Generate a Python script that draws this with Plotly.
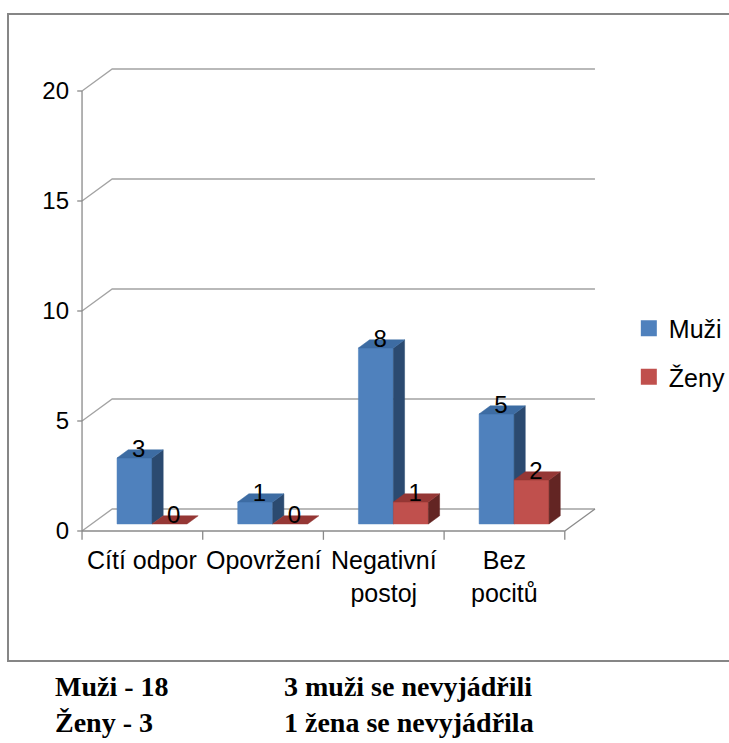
import plotly.graph_objects as go

# data
categories = ["Cítí odpor", "Opovržení", "Negativní<br>postoj", "Bez<br>pocitů"]
muzi = [3, 1, 8, 5]
zeny = [0, 0, 1, 2]
y_ticks = [0, 5, 10, 15, 20]

notes_left = ["Muži - 18", "Ženy - 3"]
notes_right = ["3 muži se nevyjádřili", "1 žena se nevyjádřila"]

# Excel-style fake 3D: the depth axis is a fixed shift in (category, value) units
DX, DY = 0.25, 1.0      # full floor depth
F0, F1 = 0.32, 0.69     # bar front / back, as fraction of the depth
BAR_W = 0.29            # bar width in category units

GRID = "#a3a3a3"
AXIS = "#8a8a8a"
FONT = "Liberation Sans"

series = [
    # name, values, front, side, top, slot
    ("Muži", muzi, "#4F81BD", "#2B4A70", "#3D6CA3", 0),
    ("Ženy", zeny, "#C0504D", "#632523", "#953735", 1),
]

n_cat = len(categories)
fig = go.Figure()


def add_lines(xs, ys, color, width=1.3):
    fig.add_trace(go.Scatter(x=xs, y=ys, mode="lines", line=dict(color=color, width=width),
                             hoverinfo="skip", showlegend=False))


# walls: slanted gridlines on the side wall, flat ones on the back wall
gx, gy = [], []
for v in y_ticks:
    gx += [0, DX, n_cat + DX, None]
    gy += [v, v + DY, v + DY, None]
add_lines(gx, gy, GRID)

# floor front edge, right edge, value axis, tick marks
ax_x = [0, n_cat, None, n_cat, n_cat + DX, None, 0, 0, None]
ax_y = [0, 0, None, 0, DY, None, 0, y_ticks[-1], None]
for i in range(n_cat + 1):
    ax_x += [i, i, None]
    ax_y += [0, -0.4, None]
for v in y_ticks:
    ax_x += [-0.04, 0, None]
    ax_y += [v, v, None]
add_lines(ax_x, ax_y, AXIS)


def polys(values, slot):
    front_x, front_y, side_x, side_y, top_x, top_y = [], [], [], [], [], []
    for i, v in enumerate(values):
        xl = i + 0.5 - BAR_W + slot * BAR_W
        xr = xl + BAR_W
        a, b = F0 * DX, F1 * DX
        if v > 0:
            front_x += [xl + a, xr + a, xr + a, xl + a, xl + a, None]
            front_y += [F0, F0, v + F0, v + F0, F0, None]
            side_x += [xr + a, xr + b, xr + b, xr + a, xr + a, None]
            side_y += [F0, F1, v + F1, v + F0, F0, None]
        top_x += [xl + a, xr + a, xr + b, xl + b, xl + a, None]
        top_y += [v + F0, v + F0, v + F1, v + F1, v + F0, None]
    return (front_x, front_y), (side_x, side_y), (top_x, top_y)


for name, vals, c_front, c_side, c_top, slot in series:
    faces = polys(vals, slot)
    for (xs, ys), col in zip(faces, (c_front, c_side, c_top)):
        fig.add_trace(go.Scatter(x=xs, y=ys, mode="lines", fill="toself", fillcolor=col,
                                 line=dict(color=col, width=0.5), hoverinfo="skip",
                                 showlegend=False))

# data labels sitting on the bar tops
for name, vals, c_front, c_side, c_top, slot in series:
    lx = [i + 0.5 - BAR_W / 2 + slot * BAR_W + F0 * DX + 0.035 for i in range(n_cat)]
    ly = [v + F0 + 0.32 for v in vals]
    fig.add_trace(go.Scatter(x=lx, y=ly, mode="text", text=[str(v) for v in vals],
                             textposition="middle center", cliponaxis=False,
                             textfont=dict(family=FONT, size=24, color="black"),
                             hoverinfo="skip", showlegend=False))

# legend entries
for name, vals, c_front, c_side, c_top, slot in series:
    fig.add_trace(go.Scatter(x=[None], y=[None], mode="markers", name=name, legendgroup=name,
                             marker=dict(symbol="square", size=17, color=c_front)))

# category labels
for i, cat in enumerate(categories):
    fig.add_annotation(x=i + 0.5, y=-0.6, text=cat, showarrow=False, xanchor="center",
                       yanchor="top", font=dict(family=FONT, size=25, color="black"))

# notes under the chart (two columns, two lines each)
for xk, lines in ((-0.0438, notes_left), (0.3924, notes_right)):
    fig.add_annotation(xref="paper", yref="paper", x=xk, y=-0.306,
                       text="<br>".join(f"<b>{t}</b>" for t in lines),
                       showarrow=False, xanchor="left", yanchor="middle", align="left",
                       font=dict(family="Liberation Serif", size=28, color="black"))

# chart area border (right side runs off the page)
fig.add_shape(type="rect", xref="paper", yref="paper", x0=-0.1295, x1=1.5, y0=-0.2182, y1=1.0889,
              line=dict(color="#868686", width=2))

fig.update_layout(
    width=729, height=743,
    margin=dict(l=76, r=128, t=58, b=190, autoexpand=False),
    paper_bgcolor="white", plot_bgcolor="white",
    font=dict(family=FONT, color="black"),
    xaxis=dict(range=[-0.05, 4.3], visible=False, fixedrange=True),
    yaxis=dict(range=[-1, 21.5], tickvals=y_ticks, showgrid=False, zeroline=False,
               showline=False, ticks="", ticklabelstandoff=6,
               tickfont=dict(family=FONT, size=24, color="black"), fixedrange=True),
    legend=dict(x=1.053, y=0.405, xanchor="left", yanchor="middle", traceorder="grouped",
                tracegroupgap=13, font=dict(family=FONT, size=25, color="black"),
                bgcolor="rgba(0,0,0,0)"),
    showlegend=True,
)

fig.write_html("out.html", config={"displayModeBar": False},
               post_script="document.body.style.margin='0';")
